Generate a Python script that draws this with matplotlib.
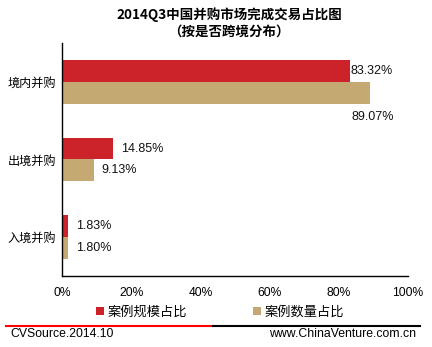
import numpy as np
import matplotlib.pyplot as plt
from matplotlib.lines import Line2D

plt.rcParams['font.family'] = ['Noto Sans CJK SC', 'DejaVu Sans']

categories = ['境内并购', '出境并购', '入境并购']
scale_share = [83.32, 14.85, 1.83]   # 案例规模占比
count_share = [89.07, 9.13, 1.80]    # 案例数量占比
series_names = ['案例规模占比', '案例数量占比']
xticks = [0, 20, 40, 60, 80, 100]

RED = '#CC2229'
TAN = '#C5A972'

fig = plt.figure(figsize=(4.32, 3.47), dpi=100)
ax = fig.add_axes([62 / 432, 1 - 276 / 347, 346 / 432, 233 / 347])

y = np.arange(len(categories))
h = 0.283
ax.barh(y - h / 2, scale_share, height=h, color=RED, label=series_names[0])
ax.barh(y + h / 2, count_share, height=h, color=TAN, label=series_names[1])

ax.set_ylim(2.5, -0.5)
ax.set_xlim(0, 100)
ax.set_yticks(y)
ax.set_yticklabels(categories, fontsize=8.7)
ax.set_xticks(xticks)
ax.set_xticklabels([f'{t}%' for t in xticks], fontsize=8.7, family='Liberation Sans')
ax.tick_params(length=0, pad=8)
ax.tick_params(axis='y', pad=4)
for s in ['top', 'right']:
    ax.spines[s].set_visible(False)
ax.spines['left'].set_linewidth(1.0)
ax.spines['bottom'].set_linewidth(1.0)

lab = dict(fontsize=9, family='Liberation Sans', va='center', color='#111111')
for i in range(len(categories)):
    if i == 0:
        ax.text(scale_share[i], y[i] - h / 2, f'{scale_share[i]:.2f}%', ha='left', **lab)
        ax.text(count_share[i] - 5.5, y[i] + h * 1.6, f'{count_share[i]:.2f}%', ha='left', **lab)
    else:
        ax.text(scale_share[i] + 2.3, y[i] - h / 2, f'{scale_share[i]:.2f}%', ha='left', **lab)
        ax.text(count_share[i] + 2.3, y[i] + h / 2, f'{count_share[i]:.2f}%', ha='left', **lab)

fig.text(229 / 432, 1 - 15 / 347, '2014Q3中国并购市场完成交易占比图', ha='center', va='center',
         fontsize=9.7, fontweight='bold')
fig.text(229 / 432, 1 - 32 / 347, '（按是否跨境分布）', ha='center', va='center',
         fontsize=9.7, fontweight='bold')

handles, labels = ax.get_legend_handles_labels()
fig.legend(handles, labels, loc='center', bbox_to_anchor=(220 / 432, 1 - 312 / 347), ncol=2,
           frameon=False, fontsize=9.5, handlelength=0.6, handleheight=0.6,
           handletextpad=0.3, columnspacing=5.0)

fig.add_artist(Line2D([6 / 432, 213 / 432], [1 - 326 / 347] * 2, color='#FF0000', lw=1.5))
fig.add_artist(Line2D([213 / 432, 420 / 432], [1 - 326 / 347] * 2, color='#000000', lw=1.5))
fig.text(10 / 432, 1 - 334 / 347, 'CVSource.2014.10', ha='left', va='center',
         fontsize=8.8, family='Liberation Sans')
fig.text(416 / 432, 1 - 334 / 347, 'www.ChinaVenture.com.cn', ha='right', va='center',
         fontsize=8.8, family='Liberation Sans')

fig.savefig('out.png', dpi=100)
